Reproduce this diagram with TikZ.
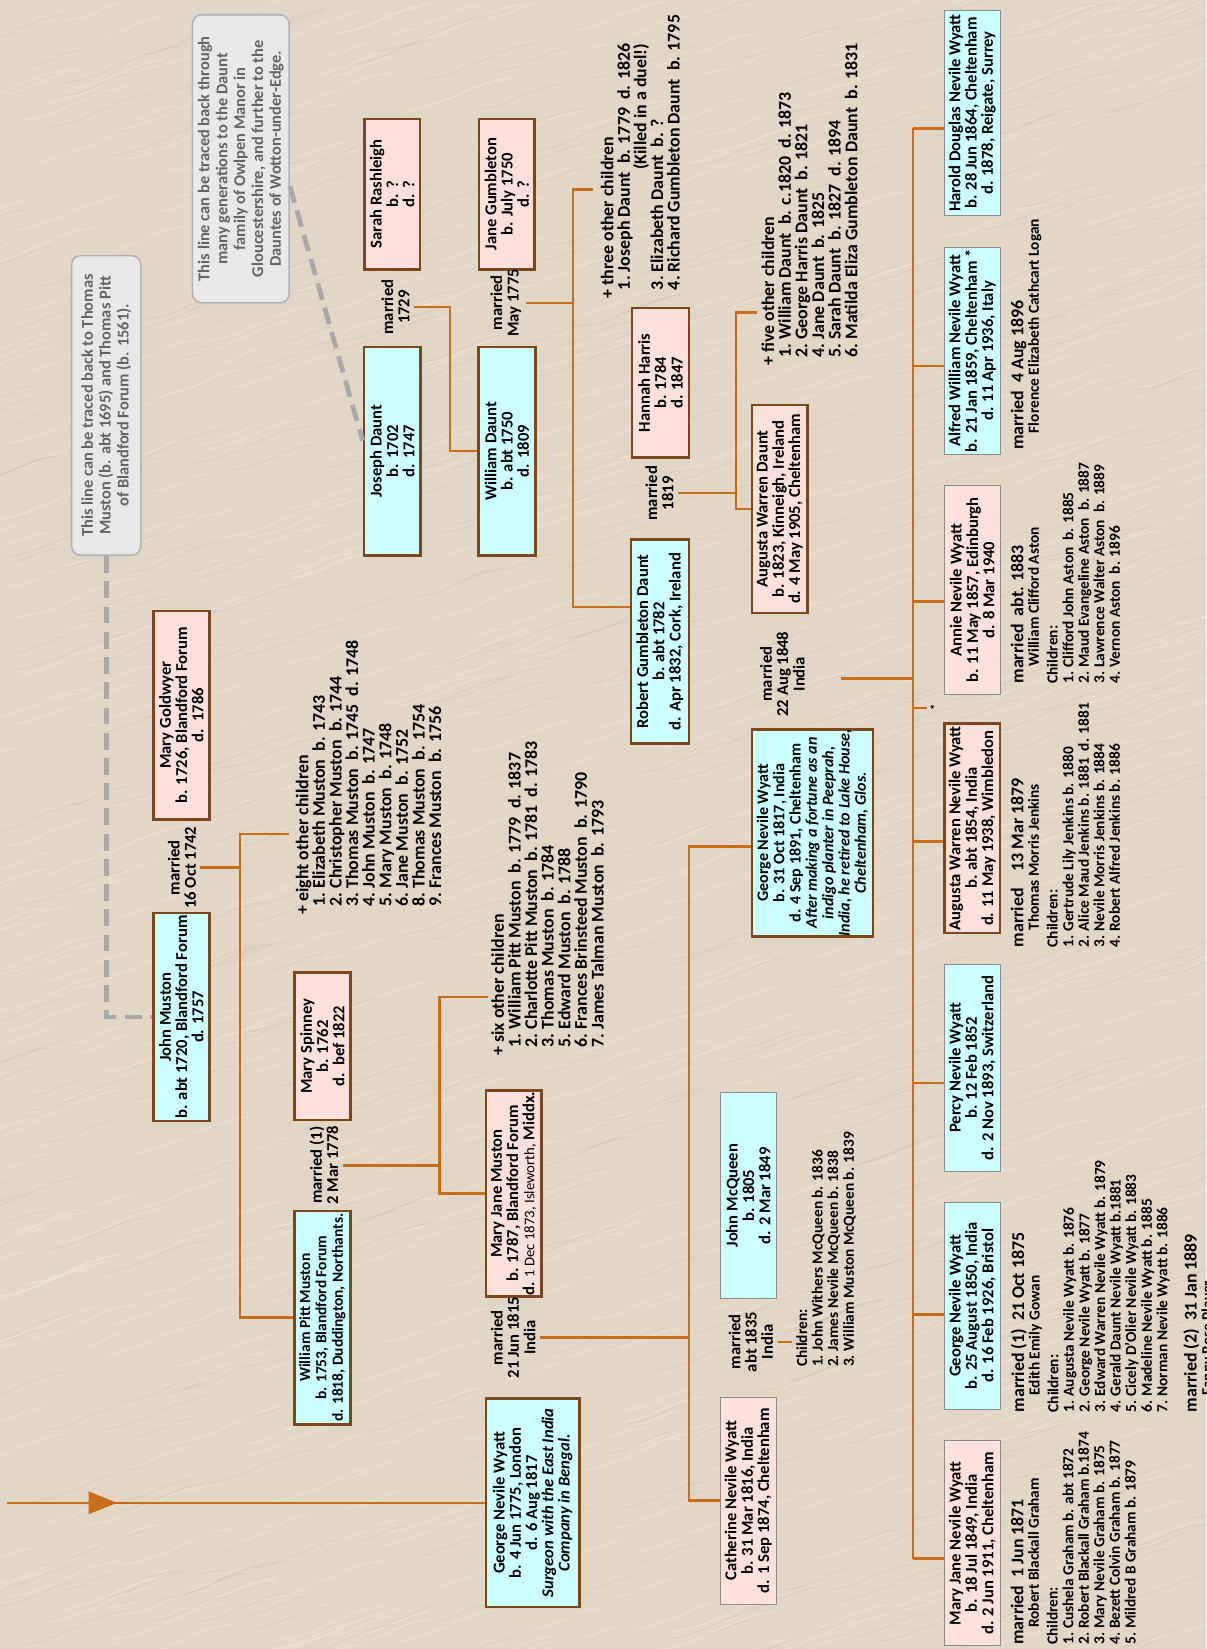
\documentclass[tikz,border=0pt]{standalone}
\usepackage{fontspec}
\setmainfont{Carlito}
\usetikzlibrary{arrows.meta,decorations.markings,calc}

\definecolor{paper}{RGB}{226,214,199}
\definecolor{paperlight}{RGB}{240,232,221}
\definecolor{paperdark}{RGB}{196,182,163}
\definecolor{linkc}{RGB}{200,110,25}
\definecolor{edgebrown}{RGB}{122,72,28}
\definecolor{edgegray}{RGB}{140,140,140}
\definecolor{cyanfill}{RGB}{204,255,255}
\definecolor{pinkfill}{RGB}{252,224,220}
\definecolor{notefill}{RGB}{232,232,232}
\definecolor{noteedge}{RGB}{178,178,178}
\definecolor{notetext}{RGB}{100,100,100}
\definecolor{dashgray}{RGB}{168,168,168}

% number column of the child lists
\newcommand{\nm}[1]{\makebox[17pt][l]{#1}}
\newcommand{\nmn}[1]{\makebox[15pt][l]{#1}}
\newcommand{\ind}{\hspace*{8pt}}
\newcommand{\spouse}{\hspace*{16pt}}
\newcommand{\mline}{\fontsize{17}{16}\selectfont}

\tikzset{
  txt/.style={font=\fontsize{15.8}{15.5}\selectfont\bfseries},
  person/.style={txt, rotate=90, align=center, inner sep=0pt,
                 minimum width=198pt, minimum height=53pt},
  strongedge/.style={draw=edgebrown, line width=2.5pt},
  softedge/.style={draw=edgegray, line width=1pt},
  him/.style={fill=cyanfill},
  her/.style={fill=pinkfill},
  lbl/.style={txt, rotate=90, align=center, inner sep=4pt},
  lst/.style={font=\fontsize{17}{15.8}\selectfont\bfseries, rotate=90,
              align=left, inner sep=0pt, anchor=north west},
  notes/.style={font=\fontsize{14.6}{14.8}\selectfont\bfseries, rotate=90,
              align=left, inner sep=0pt, anchor=north west},
  conn/.style={draw=linkc, line width=2.4pt},
  notebox/.style={font=\fontsize{15.6}{17}\selectfont\bfseries, rotate=90,
                  align=center, rounded corners=9pt, fill=notefill,
                  draw=noteedge, line width=1.5pt, text=notetext, inner sep=0pt},
  dashlink/.style={draw=dashgray, line width=4.5pt, dash pattern=on 16pt off 8pt},
}

\begin{document}
\begin{tikzpicture}[x=1pt, y=-1pt]
\useasboundingbox (0,0) rectangle (1147,1568);
\clip (0,0) rectangle (1147,1568);
\fill[paper] (0,0) rectangle (1147,1568);

% paper grain: short slanted streaks
\pgfmathsetseed{12}
\foreach \i in {1,...,700}{
  \pgfmathsetmacro\sx{rnd*1230-60}
  \pgfmathsetmacro\sy{rnd*1620}
  \pgfmathsetmacro\sl{30+rnd*90}
  \draw[paperlight, opacity=0.45, line width=1.4pt, line cap=round]
    (\sx,\sy) .. controls +(\sl*0.4,-\sl*0.05) and +(-\sl*0.4,\sl*0.05) .. ++(\sl,-0.32*\sl);
}
\foreach \i in {1,...,500}{
  \pgfmathsetmacro\sx{rnd*1230-60}
  \pgfmathsetmacro\sy{rnd*1620}
  \pgfmathsetmacro\sl{30+rnd*80}
  \draw[paperdark, opacity=0.3, line width=1pt, line cap=round]
    (\sx,\sy) .. controls +(\sl*0.4,-\sl*0.05) and +(-\sl*0.4,\sl*0.05) .. ++(\sl,-0.32*\sl);
}

% ---------- notes ----------
\node[notebox, minimum width=285pt, minimum height=66pt] (noteA) at (101,385.5)
  {This line can be traced back to Thomas\\Muston (b. abt 1695) and Thomas Pitt\\of Blandford Forum (b. 1561).};
\node[notebox, minimum width=274pt, minimum height=92pt] (noteB) at (229,151)
  {This line can be traced back through\\many generations to the Daunt\\family of Owlpen Manor in\\Gloucestershire, and further to the\\Dauntes of Wotton-under-Edge.};

% ---------- Muston line ----------
\node[person, strongedge, her] (goldwyer) at (172.5,680)
  {Mary Goldwyer\\b. 1726, Blandford Forum\\d.~~1786};
\node[person, strongedge, him] (jmuston) at (172.5,967)
  {John Muston\\b. abt 1720, Blandford Forum\\d. 1757};
\node[lbl] (m1742) at (173,825) {married\\16 Oct 1742};

\node[person, strongedge, her, minimum width=140pt] (spinney) at (306.5,995)
  {Mary Spinney\\b. 1762\\d.~~bef 1822};
\node[person, strongedge, him, minimum width=203pt, font=\fontsize{14.7}{15.5}\selectfont\bfseries] (wpmuston) at (306.5,1253)
  {William Pitt Muston\\b. 1753, Blandford Forum\\d. 1818, Duddington, Northants.};
\node[lbl] (m1778) at (308,1108) {married (1)\\2 Mar 1778};

\node[lst] (kids1) at (281,870) {+ eight other children\\
  \ind\nm{1.}Elizabeth Muston~~b. 1743\\
  \ind\nm{2.}Christopher Muston~~b. 1744\\
  \ind\nm{3.}Thomas Muston~~b. 1745~~d. 1748\\
  \ind\nm{4.}John Muston~~b. 1747\\
  \ind\nm{5.}Mary Muston~~b. 1748\\
  \ind\nm{6.}Jane Muston~~b. 1752\\
  \ind\nm{8.}Thomas Muston~~b. 1754\\
  \ind\nm{9.}Frances Muston~~b. 1756};

\node[lst] (kids2) at (467,1004) {+ six other children\\
  \ind\nm{1.}William Pitt Muston~~b. 1779~~d. 1837\\
  \ind\nm{2.}Charlotte Pitt Muston~~b. 1781~~d. 1783\\
  \ind\nm{3.}Thomas Muston~~b. 1784\\
  \ind\nm{5.}Edward Muston~~b. 1788\\
  \ind\nm{6.}Frances Brinsteed Muston~~b. 1790\\
  \ind\nm{7.}James Talman Muston~~b. 1793};

\node[person, strongedge, her, minimum width=196pt] (mjmuston) at (488.5,1135)
  {Mary Jane Muston\\b. 1787, Blandford Forum\\d. {\mdseries\fontsize{14}{15.5}\selectfont 1 Dec 1873, Isleworth,} Middx.};
\node[person, strongedge, him, minimum height=89pt] (gnw1775) at (506.5,1429)
  {George Nevile Wyatt\\b. 4 Jun 1775, London\\d. 6 Aug 1817\\
   \textit{Surgeon with the East India}\\\textit{Company in Bengal.}};
\node[lbl] (m1815) at (488,1272) {married\\21 Jun 1815\\India};

% ---------- Daunt line ----------
\node[person, strongedge, her, minimum width=143pt] (sarah) at (373,184.5)
  {Sarah Rashleigh\\b. ?\\d. ?};
\node[person, strongedge, him, minimum height=54pt] (joseph) at (373,429)
  {Joseph Daunt\\b. 1702\\d. 1747};
\node[lbl] (m1729) at (376,292) {married\\1729};

\node[person, strongedge, her, minimum width=143pt] (jane) at (482,184.5)
  {Jane Gumbleton\\b. July 1750\\d. ?};
\node[person, strongedge, him, minimum height=54pt] (william) at (482,429)
  {William Daunt\\b. abt 1750\\d. 1809};
\node[lbl] (m1775) at (481,288) {married\\May 1775};

\node[lst] (kids3) at (571,284) {+ three other children\\
  \ind\nm{1.}Joseph Daunt~~b. 1779~~d. 1826\\
  \ind\nm{}\phantom{Joseph Daunt~~b. 1779~~d. 1826}\llap{(Killed in a duel!)}\\
  \ind\nm{3.}Elizabeth Daunt~~b. ?\\
  \ind\nm{4.}Richard Gumbleton Daunt~~b. 1795};

\node[person, strongedge, her, minimum width=142pt, minimum height=54pt] (hannah) at (628,364)
  {Hannah Harris\\b. 1784\\d. 1847};
\node[person, strongedge, him, minimum width=194pt, minimum height=55pt] (robert) at (627.5,610)
  {Robert Gumbleton Daunt\\b. abt 1782\\d. Apr 1832, Cork, Ireland};
\node[lbl] (m1819) at (627,469) {married\\1819};

\node[person, strongedge, her] (augdaunt) at (741.5,484)
  {Augusta Warren Daunt\\b. 1823, Kinneigh, Ireland\\d. 4 May 1905, Cheltenham};

\node[lst] (kids4) at (724,348) {+ five other children\\
  \ind\nm{1.}William Daunt~~b. c.1820~~d. 1873\\
  \ind\nm{2.}George Harris Daunt~~b. 1821\\
  \ind\nm{4.}Jane Daunt~~b. 1825\\
  \ind\nm{5.}Sarah Daunt~~b. 1827~~d. 1894\\
  \ind\nm{6.}Matilda Eliza Gumbleton Daunt~~b. 1831};

% ---------- Wyatt line ----------
\node[person, strongedge, him, minimum width=197pt, minimum height=115pt,
      font=\fontsize{15.3}{15.5}\selectfont\bfseries] (gnw1817) at (772.5,792)
  {George Nevile Wyatt\\b. 31 Oct 1817, India\\d. 4 Sep 1891, Cheltenham\\
   \textit{After making a fortune as an}\\\textit{indigo planter in Peeprah,}\\
   \textit{India, he retired to Lake House,}\\\textit{Cheltenham, Glos.}};
\node[lbl] (m1848) at (744,641) {married\\22 Aug 1848\\India};

\node[person, softedge, him, minimum width=196pt] (mcqueen) at (711.5,1137)
  {John McQueen\\b. 1805\\d. 2 Mar 1849};
\node[person, softedge, her, minimum width=197pt] (catherine) at (711.5,1427)
  {Catherine Nevile Wyatt\\b. 31 Mar 1816, India\\d. 1 Sep 1874, Cheltenham};
\node[lbl] (m1835) at (714,1276) {married\\abt 1835\\India};
\node[notes] (kids5) at (757,1300) {Children:\\
  \nmn{1.}John Withers McQueen b. 1836\\
  \nmn{2.}James Nevile McQueen b. 1838\\
  \nmn{3.}William Muston McQueen b. 1839};

% ---------- children of George Nevile Wyatt and Augusta Warren Daunt ----------
\node[person, softedge, him, minimum width=195pt] (harold) at (924.5,107.5)
  {Harold Douglas Nevile Wyatt\\b. 28 Jun 1864, Cheltenham\\d. 1878, Reigate, Surrey};
\node[person, softedge, him, minimum width=197pt] (alfred) at (924.5,333.5)
  {Alfred William Nevile Wyatt\\b. 21 Jan 1859, Cheltenham *\\d. 11 Apr 1936, Italy};
\node[person, softedge, her] (annie) at (924.5,561)
  {Annie Nevile Wyatt\\b. 11 May 1857, Edinburgh\\d. 8 Mar 1940};
\node[person, strongedge, her, minimum width=199pt] (augwyatt) at (924.5,787.5)
  {Augusta Warren Nevile Wyatt\\b. abt 1854, India\\d. 11 May 1938, Wimbledon};
\node[person, softedge, him, minimum width=197pt] (percy) at (924.5,1015.5)
  {Percy Nevile Wyatt\\b. 12 Feb 1852\\d. 2 Nov 1893, Switzerland};
\node[person, softedge, him, minimum width=197pt] (gnw1850) at (924.5,1241.5)
  {George Nevile Wyatt\\b. 25 August 1850, India\\d. 16 Feb 1926, Bristol};
\node[person, softedge, her, minimum width=195pt] (mjnw) at (924.5,1467.5)
  {Mary Jane Nevile Wyatt\\b. 18 Jul 1849, India\\d. 2 Jun 1911, Cheltenham};
\node[txt, rotate=90, inner sep=0pt, font=\fontsize{12}{12}\selectfont\bfseries] (star) at (889,673) {*};

\node[notes] (alfredN) at (961,428) {{\mline married~~4 Aug 1896}\\
  \spouse Florence Elizabeth Cathcart Logan};
\node[notes] (annieN) at (961,650) {{\mline married~~abt. 1883}\\
  \spouse William Clifford Aston\\[3pt]
  Children:\\
  \nmn{1.}Clifford John Aston~~b. 1885\\
  \nmn{2.}Maud Evangeline Aston~~b. 1887\\
  \nmn{3.}Lawrence Walter Aston~~b. 1889\\
  \nmn{4.}Vernon Aston~~b. 1896};
\node[notes] (augN) at (961,901) {{\mline married\hspace{16pt}13 Mar 1879}\\
  \spouse Thomas Morris Jenkins\\[3pt]
  Children:\\
  \nmn{1.}Gertrude Lily Jenkins b. 1880\\
  \nmn{2.}Alice Maud Jenkins b. 1881~~d. 1881\\
  \nmn{3.}Nevile Morris Jenkins b. 1884\\
  \nmn{4.}Robert Alfred Jenkins b. 1886};
\node[notes] (georgeN) at (961,1343) {{\mline married (1)~~21 Oct 1875}\\
  \spouse Edith Emily Gowan\\[3pt]
  Children:\\
  \nmn{1.}Augusta Nevile Wyatt b. 1876\\
  \nmn{2.}George Nevile Wyatt b. 1877\\
  \nmn{3.}Edward Warren Nevile Wyatt b. 1879\\
  \nmn{4.}Gerald Daunt Nevile Wyatt b.1881\\
  \nmn{5.}Cicely D’Olier Nevile Wyatt b. 1883\\
  \nmn{6.}Madeline Nevile Wyatt b. 1885\\
  \nmn{7.}Norman Nevile Wyatt b. 1886\\[12pt]
  {\mline married (2)~~31 Jan 1889}\\
  \spouse Fanny Rose Player};
\node[notes] (maryN) at (961,1564) {{\mline married~~1 Jun 1871}\\
  \spouse Robert Blackall Graham\\[3pt]
  Children:\\
  \nmn{1.}Cushela Graham b. abt 1872\\
  \nmn{2.}Robert Blackall Graham b.1874\\
  \nmn{3.}Mary Nevile Graham b. 1875\\
  \nmn{4.}Bezett Colvin Graham b. 1877\\
  \nmn{5.}Mildred B Graham b. 1879};

% ---------- junction points of the family lines ----------
\coordinate (busA) at (228,793);
\coordinate (tipA) at (275,793);
\coordinate (busB) at (418,948);
\coordinate (tipB) at (464,948);
\coordinate (busC) at (428,290);
\coordinate (busD) at (545,180);
\coordinate (tipD) at (564,180);
\coordinate (turnD) at (545,577);
\coordinate (busE) at (700,297);
\coordinate (tipE) at (720,297);
\coordinate (busF) at (655,805);
\coordinate (busH) at (868,645);
\coordinate (from1848) at (800,645);
\coordinate (arrowfrom) at (7,1429);

% ---------- connectors ----------
\draw[conn] (m1742.south) -- (m1742.south -| busA);
\draw[conn] (tipA) -- (busA) |- (wpmuston.north);

\draw[conn] (m1778.south) -- (m1778.south -| busB);
\draw[conn] (tipB) -- (busB) |- (mjmuston.north);

\draw[conn] (m1729.south) -- (m1729.south -| busC) |- (william.north);

\draw[conn] (m1775.south) -- (m1775.south -| busD);
\draw[conn] (tipD) -- (busD) -- (turnD) -- (turnD -| robert.north);

\draw[conn] (m1819.south) -- (m1819.south -| busE);
\draw[conn] (tipE) -- (busE) |- (augdaunt.north);

\draw[conn] (busF -| gnw1817.north) -- (busF) |- (catherine.north);
\draw[conn] (m1815.south) -- (m1815.south -| busF);

\draw[conn] (m1835.south) -- ([xshift=-4pt]m1835.south -| kids5.north);

\draw[conn] (from1848) -- (busH);
\draw[conn] (busH |- 0,122) -- (busH |- 0,1482);
\foreach \who/\yy in {harold/122, alfred/348, annie/572, augwyatt/800,
                      percy/1030, gnw1850/1250, mjnw/1482}
  \draw[conn] (busH |- 0,\yy) -- (\who.north |- 0,\yy);
\draw[conn] (busH |- star) -- ([xshift=-3pt]star.north);

\draw[conn, postaction={decorate}, decoration={markings,
      mark=at position 0.23 with {\arrow{Triangle[length=27pt,width=21pt]}}}]
  (arrowfrom) -- (gnw1775.north);

% ---------- grey dashed links to the notes ----------
\draw[dashlink] (noteA.west) |- (jmuston.north);
\draw[dashlink] ($(noteB.south)!0.19!(noteB.south west)$) -- ($(joseph.north)!0.1!(joseph.north east)$);
\end{tikzpicture}
\end{document}
